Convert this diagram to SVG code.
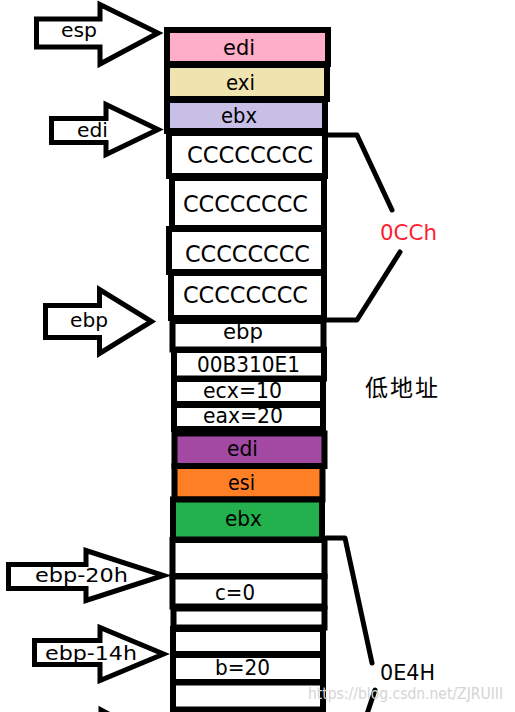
<svg xmlns="http://www.w3.org/2000/svg" width="515" height="712" viewBox="0 0 515 712">
<style>
text{font-family:"DejaVu Sans","Noto Sans CJK SC",sans-serif;fill:#000}
.lbl{font-size:21px}
.cc{font-size:22.5px}
.arr{font-size:20px}
.cell{stroke:#000;stroke-width:6}
.ptr{fill:#fff;stroke:#000;stroke-width:5;stroke-linejoin:miter}
.br{fill:none;stroke:#000;stroke-width:5;stroke-linecap:round;stroke-linejoin:round}
</style>
<rect width="515" height="712" fill="#fff"/>

<g id="stack">
  <g id="c-edi1"><rect class="cell" x="167" y="30" width="161" height="34" fill="#FFAEC9" stroke-width="5"/><text class="lbl" x="223" y="55" textLength="32" lengthAdjust="spacingAndGlyphs">edi</text></g>
  <g id="c-exi"><rect class="cell" x="167" y="65" width="160" height="34" fill="#EFE4B0" stroke-width="5"/><text class="lbl" x="226" y="90" textLength="29" lengthAdjust="spacingAndGlyphs">exi</text></g>
  <g id="c-ebx1"><rect class="cell" x="167" y="100" width="158" height="31" fill="#C8BFE7" stroke-width="5"/><text class="lbl" x="221" y="123" textLength="36" lengthAdjust="spacingAndGlyphs">ebx</text></g>
  <g id="c-cc1"><rect class="cell" x="169" y="133" width="156" height="43" fill="#fff" stroke-width="7"/><text class="cc" x="187" y="163" textLength="126" lengthAdjust="spacingAndGlyphs">CCCCCCCC</text></g>
  <g id="c-cc2"><rect class="cell" x="172" y="178" width="152" height="50" fill="#fff"/><text class="cc" x="183" y="212" textLength="125" lengthAdjust="spacingAndGlyphs">CCCCCCCC</text></g>
  <g id="c-cc3"><rect class="cell" x="169" y="229" width="155" height="43" fill="#fff"/><text class="cc" x="185" y="262" textLength="125" lengthAdjust="spacingAndGlyphs">CCCCCCCC</text></g>
  <g id="c-cc4"><rect class="cell" x="171" y="273" width="153" height="45" fill="#fff" stroke-width="5"/><text class="cc" x="183" y="303" textLength="125" lengthAdjust="spacingAndGlyphs">CCCCCCCC</text></g>
  <g id="c-ebp"><rect class="cell" x="172.5" y="321" width="151" height="28.5" fill="#fff"/><text class="lbl" x="223" y="339" textLength="40" lengthAdjust="spacingAndGlyphs">ebp</text></g>
  <g id="c-ret"><rect class="cell" x="174" y="350" width="150" height="28.5" fill="#fff"/><text class="lbl" x="197" y="372" textLength="103" lengthAdjust="spacingAndGlyphs">00B310E1</text></g>
  <g id="c-ecx"><rect class="cell" x="174" y="379" width="149" height="25" fill="#fff"/><text class="lbl" x="203" y="398" textLength="79" lengthAdjust="spacingAndGlyphs">ecx=10</text></g>
  <g id="c-eax"><rect class="cell" x="174" y="405" width="149" height="24" fill="#fff"/><text class="lbl" x="203" y="423" textLength="80" lengthAdjust="spacingAndGlyphs">eax=20</text></g>
  <g id="c-edi2"><rect class="cell" x="174.5" y="433.5" width="150" height="32.5" fill="#A349A4"/><text class="lbl" x="227" y="456" textLength="31" lengthAdjust="spacingAndGlyphs">edi</text></g>
  <g id="c-esi"><rect class="cell" x="174.5" y="466" width="148" height="33.5" fill="#FF7F27"/><text class="lbl" x="228" y="490" textLength="27" lengthAdjust="spacingAndGlyphs">esi</text></g>
  <g id="c-ebx2"><rect class="cell" x="173" y="499.5" width="149" height="40" fill="#22B14C"/><text class="lbl" x="225" y="526" textLength="37" lengthAdjust="spacingAndGlyphs">ebx</text></g>
  <g id="c-e1"><rect class="cell" x="172.5" y="540" width="152" height="36" fill="#fff"/></g>
  <g id="c-c"><rect class="cell" x="172.5" y="576.5" width="152" height="30" fill="#fff"/><text class="lbl" x="215" y="600" textLength="40" lengthAdjust="spacingAndGlyphs">c=0</text></g>
  <g id="c-e2"><rect class="cell" x="173.5" y="608.5" width="151" height="19" fill="#fff" stroke-width="7"/></g>
  <g id="c-e3"><rect class="cell" x="173" y="629" width="150" height="25" fill="#fff"/></g>
  <g id="c-b"><rect class="cell" x="173" y="655" width="150" height="27" fill="#fff"/><text class="lbl" x="215" y="675" textLength="55" lengthAdjust="spacingAndGlyphs">b=20</text></g>
  <g id="c-e4"><rect class="cell" x="173" y="682.5" width="150" height="27" fill="#fff"/></g>
</g>

<g id="p-esp"><polygon class="ptr" points="36.5,19 100,19 100,4.5 158,33 100,64 100,47 36.5,47"/><text class="arr" x="61" y="37" textLength="36" lengthAdjust="spacingAndGlyphs">esp</text></g>
<g id="p-edi"><polygon class="ptr" points="51.5,118.5 106,118.5 106,104.5 158,129.5 106,154.5 106,142.5 51.5,142.5"/><text class="arr" x="77" y="137" textLength="31" lengthAdjust="spacingAndGlyphs">edi</text></g>
<g id="p-ebp"><polygon class="ptr" points="45.5,305.5 99.5,305.5 99.5,289.5 151.5,321.5 99.5,353.5 99.5,337.5 45.5,337.5"/><text class="arr" x="70" y="327" textLength="38" lengthAdjust="spacingAndGlyphs">ebp</text></g>
<g id="p-ebp20"><polygon class="ptr" points="8.5,564.5 86,564.5 86,550.5 163.5,575.5 86,600.5 86,588.5 8.5,588.5"/><text class="arr" x="35" y="582" textLength="93" lengthAdjust="spacingAndGlyphs">ebp-20h</text></g>
<g id="p-ebp14"><polygon class="ptr" points="34.5,640.5 100,640.5 100,627.5 163.5,654 100,680.5 100,664.5 34.5,664.5"/><text class="arr" x="45" y="660" textLength="92" lengthAdjust="spacingAndGlyphs">ebp-14h</text></g>
<g id="p-next"><polyline class="ptr" points="101,720 101,710 116,718"/></g>

<g id="connectors">
  <polyline class="br" points="324,135 357,135 392,210"/>
  <polyline class="br" points="400,252 357,320 324,320"/>
  <polyline class="br" points="326,538 345,538 372,663"/>
  <polyline class="br" points="375,690 367,714"/>
</g>

<g id="l-0cch"><text x="380" y="240" style="font-size:22px;fill:#FF1E32" textLength="57" lengthAdjust="spacingAndGlyphs">0CCh</text></g>
<g id="l-low"><text x="365" y="396" style="font-size:23px" textLength="73" lengthAdjust="spacing">低地址</text></g>
<g id="l-0e4h"><text x="380" y="680" style="font-size:22px" textLength="55" lengthAdjust="spacingAndGlyphs">0E4H</text></g>
<g id="watermark"><text x="308" y="699" style="font-size:15px;fill:#d4d4d4" textLength="195" lengthAdjust="spacingAndGlyphs">https://blog.csdn.net/ZJRUIII</text></g>
</svg>
